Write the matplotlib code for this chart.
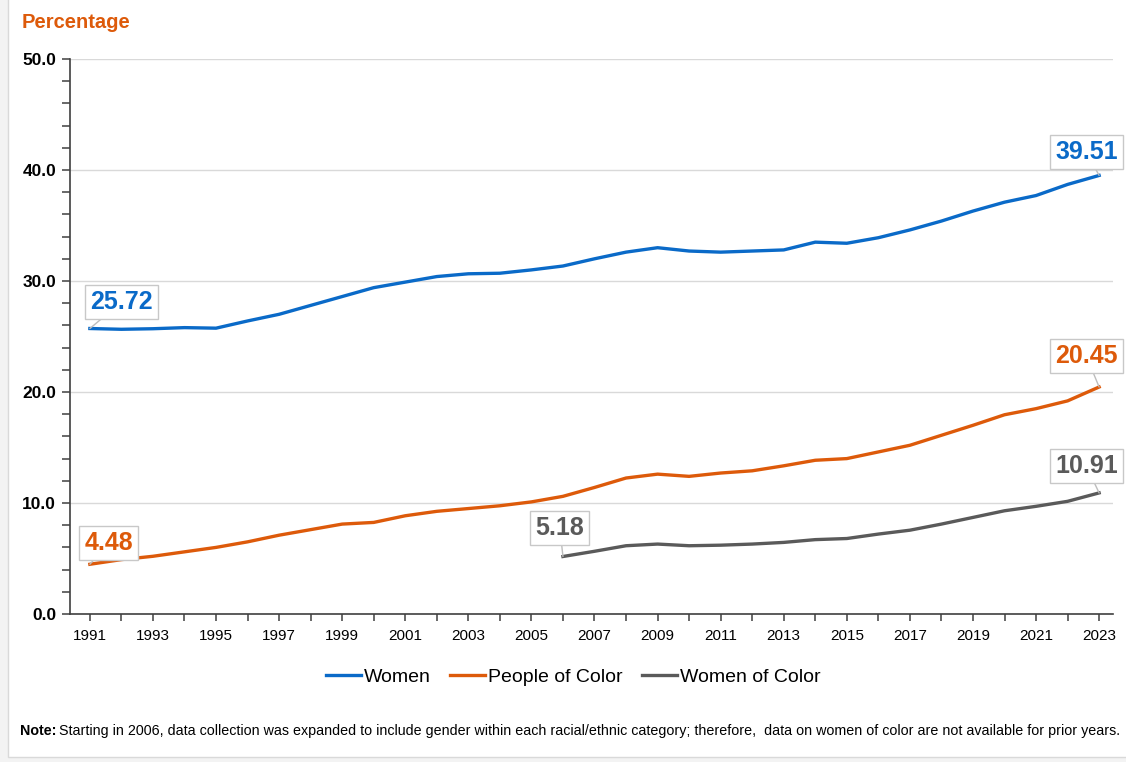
import matplotlib
matplotlib.use('Agg')
import matplotlib.pyplot as plt
from matplotlib.patches import Rectangle
from matplotlib.ticker import MultipleLocator

plt.rcParams['font.family'] = ['Liberation Sans Narrow', 'Liberation Sans', 'DejaVu Sans']

years = list(range(1991, 2024))
women = [25.72, 25.65, 25.7, 25.8, 25.75, 26.4, 27.0, 27.8, 28.6, 29.4, 29.9, 30.4,
         30.65, 30.7, 31.0, 31.35, 32.0, 32.6, 33.0, 32.7, 32.6, 32.7, 32.8, 33.5,
         33.4, 33.9, 34.6, 35.4, 36.3, 37.1, 37.7, 38.7, 39.51]
people_of_color = [4.48, 4.9, 5.2, 5.6, 6.0, 6.5, 7.1, 7.6, 8.1, 8.25, 8.85, 9.25,
                   9.5, 9.75, 10.1, 10.6, 11.4, 12.25, 12.6, 12.4, 12.7, 12.9, 13.35,
                   13.85, 14.0, 14.6, 15.2, 16.1, 17.0, 17.95, 18.5, 19.2, 20.45]
woc_years = list(range(2006, 2024))
women_of_color = [5.18, 5.65, 6.15, 6.3, 6.15, 6.2, 6.3, 6.45, 6.7, 6.8, 7.2, 7.55,
                  8.1, 8.7, 9.3, 9.7, 10.15, 10.91]

blue = '#0A6AC8'
orange = '#DD5A0A'
gray = '#5A5A5A'

W, H = 1126, 762
fig = plt.figure(figsize=(W / 100, H / 100), dpi=100)
fig.patch.set_facecolor('#f3f3f3')
# white card behind everything
card = Rectangle((8 / W, 5 / H), 1, 1, transform=fig.transFigure,
                 facecolor='white', edgecolor='#d9d9d9', lw=1, zorder=-10)
fig.patches.append(card)

ax = fig.add_axes([70 / W, 1 - 614 / H, (1113 - 70) / W, (614 - 59) / H])
ax.set_facecolor('white')

ax.plot(years, women, color=blue, lw=2.4, label='Women')
ax.plot(years, people_of_color, color=orange, lw=2.4, label='People of Color')
ax.plot(woc_years, women_of_color, color=gray, lw=2.4, label='Women of Color')

ax.set_xlim(1990.37, 2023.44)
ax.set_ylim(0, 50)
ax.yaxis.set_major_locator(MultipleLocator(10))
ax.yaxis.set_minor_locator(MultipleLocator(2))
ax.set_yticks([0, 10, 20, 30, 40, 50])
ax.set_yticklabels([f'{v:.1f}' for v in [0, 10, 20, 30, 40, 50]], fontweight='bold')
ax.set_xticks(years)
ax.set_xticklabels([str(y) if (y - 1991) % 2 == 0 else '' for y in years])
ax.grid(axis='y', which='major', color='#d9d9d9', lw=1)
ax.set_axisbelow(True)

for s in ['top', 'right']:
    ax.spines[s].set_visible(False)
for s in ['left', 'bottom']:
    ax.spines[s].set_color('#404040')
    ax.spines[s].set_linewidth(1.2)

ax.tick_params(axis='y', which='both', direction='out', length=6, width=1.1, color='#404040',
               labelsize=12.5, pad=4)
ax.tick_params(axis='x', direction='out', length=5, width=1.1, color='#404040',
               labelsize=11, pad=6)

# callout labels
labels = [
    (1991, women[0], 1992.0, 28.1, blue),
    (2023, women[-1], 2022.6, 41.6, blue),
    (1991, people_of_color[0], 1991.6, 6.4, orange),
    (2023, people_of_color[-1], 2022.6, 23.2, orange),
    (2006, women_of_color[0], 2005.9, 7.75, gray),
    (2023, women_of_color[-1], 2022.6, 13.3, gray),
]
for x, y, tx, ty, c in labels:
    ax.annotate(f'{y:.2f}', xy=(x, y), xytext=(tx, ty), textcoords='data',
                ha='center', va='center', fontsize=18, fontweight='bold', color=c,
                annotation_clip=False,
                bbox=dict(boxstyle='square,pad=0.2', fc='white', ec='#c8c8c8', lw=1),
                arrowprops=dict(arrowstyle='-', color='#bdbdbd', lw=1, shrinkA=0, shrinkB=0))

fig.text(22 / W, 1 - 23 / H, 'Percentage', color=orange, fontsize=14.5,
         fontweight='bold', ha='left', va='center')

ax.legend(loc='center', bbox_to_anchor=(573 / W, 1 - 677 / H), bbox_transform=fig.transFigure,
          ncol=3, frameon=False, fontsize=14, handlelength=1.8, handletextpad=0.15,
          columnspacing=1.0)

note_y = 1 - 731 / H
note_head = fig.text(20 / W, note_y, 'Note:', fontsize=10.3, fontweight='bold',
                     ha='left', va='center')
renderer = fig.canvas.get_renderer()
bb = note_head.get_window_extent(renderer=renderer)
fig.text((bb.x1 + 3) / W, note_y,
         'Starting in 2006, data collection was expanded to include gender within each '
         'racial/ethnic category; therefore,  data on women of color are not available for prior years.',
         fontsize=10.3, ha='left', va='center')

fig.savefig('out.png', dpi=100)
